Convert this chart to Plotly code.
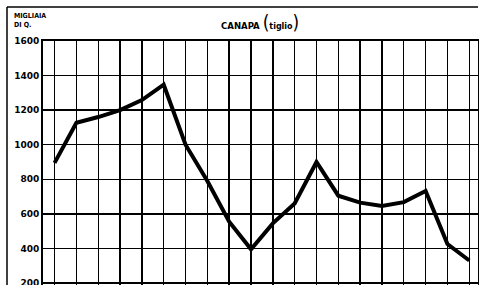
import plotly.graph_objects as go

# --- data ---
periods = list(range(1, 21))
production = [895, 1127, 1160, 1200, 1258, 1347, 1000, 790, 555, 395,
              545, 660, 900, 705, 665, 645, 668, 732, 425, 330]
y_ticks = [200, 400, 600, 800, 1000, 1200, 1400, 1600]
y_ticklabels = ["200", "400", "600", "800", "1000", "1200", "1400", "1600"]
title_main = "CANAPA"
title_sub = "tiglio"
unit_line1 = "MIGLIAIA"
unit_line2 = "DI Q."

NARROW = "Liberation Sans Narrow, DejaVu Sans Condensed, Arial Narrow, sans-serif"

W, H = 479, 285
ML, MT, MR, MB = 0, 0, 1, 0
PW, PH = W - ML - MR, H - MT - MB
PLOT_L, PLOT_T = 43, 41
FRAME = 7
xdom = [(PLOT_L - ML) / PW, 1.0]
ydom = [0.0, (H - PLOT_T) / PH]


def px_x(px):
    return (px - ML) / PW


def px_y(py):
    return (H - py) / PH


fig = go.Figure()
fig.add_trace(go.Scatter(
    x=periods, y=production, mode="lines",
    line=dict(color="black", width=4),
    hoverinfo="skip", showlegend=False,
))

fig.update_layout(
    template="none",
    width=W, height=H,
    margin=dict(l=ML, r=MR, t=MT, b=MB, pad=0),
    paper_bgcolor="white", plot_bgcolor="white",
    showlegend=False,
    xaxis=dict(
        domain=xdom, automargin=False,
        range=[periods[0] - 0.53, periods[-1] + 0.4],
        tickvals=periods, showticklabels=False, ticks="",
        showgrid=True, gridcolor="black", gridwidth=1.4,
        showline=True, linecolor="black", linewidth=2, mirror=True,
        zeroline=False,
    ),
    yaxis=dict(
        domain=ydom, automargin=False,
        range=[188.4, 1600],
        tickvals=y_ticks, ticktext=y_ticklabels, ticks="",
        ticklabeloverflow="allow",
        showgrid=True, gridcolor="black", gridwidth=1.4,
        showline=True, linecolor="black", linewidth=2, mirror=True,
        zeroline=False,
        tickfont=dict(family="DejaVu Sans", size=9, color="black", weight="bold"),
    ),
    annotations=[
        dict(
            text=(f"{title_main} <span style='font-size:19px;font-weight:normal'>(</span>"
                  f"<span style='font-family:DejaVu Sans;font-size:8px'>{title_sub}</span>"
                  f"<span style='font-size:19px;font-weight:normal'>)</span>"),
            x=px_x(260), y=px_y(22), xref="paper", yref="paper",
            xanchor="center", yanchor="middle", showarrow=False,
            font=dict(family=NARROW, size=9.5, color="black", weight="bold"),
        ),
        dict(
            text=unit_line1, x=px_x(11.5), y=px_y(16), xref="paper", yref="paper",
            xanchor="left", yanchor="middle", showarrow=False,
            font=dict(family=NARROW, size=7, color="black", weight="bold"),
        ),
        dict(
            text=unit_line2, x=px_x(11.5), y=px_y(25), xref="paper", yref="paper",
            xanchor="left", yanchor="middle", showarrow=False,
            font=dict(family=NARROW, size=7, color="black", weight="bold"),
        ),
    ],
    shapes=[
        dict(type="line", xref="paper", yref="paper", layer="above",
             x0=px_x(FRAME), x1=1, y0=px_y(FRAME), y1=px_y(FRAME),
             line=dict(color="black", width=1.5)),
        dict(type="line", xref="paper", yref="paper", layer="above",
             x0=px_x(FRAME), x1=px_x(FRAME), y0=0, y1=px_y(FRAME),
             line=dict(color="black", width=1.5)),
    ],
)

fig.write_html(
    "out.html",
    config={"displayModeBar": False, "staticPlot": True},
    post_script="document.body.style.margin='0';document.body.style.overflow='hidden';",
)
